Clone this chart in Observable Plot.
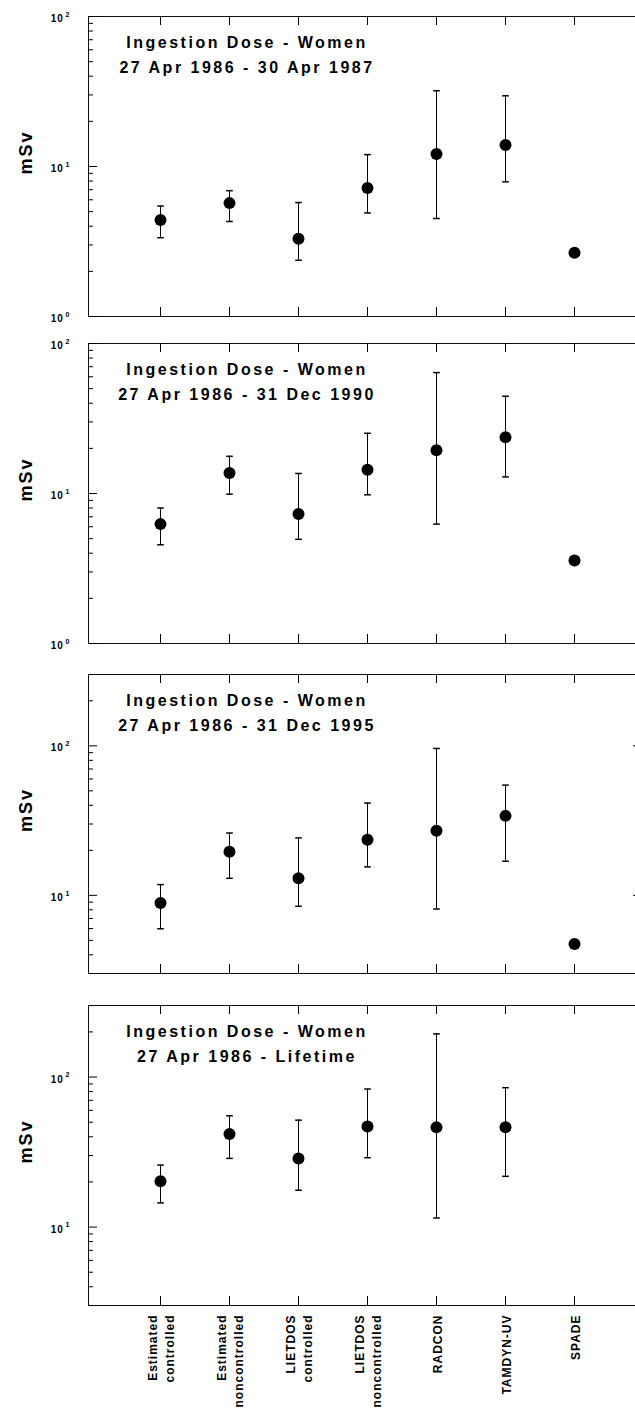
<!DOCTYPE html>
<html><head><meta charset="utf-8">
<script src="https://cdn.jsdelivr.net/npm/d3@7"></script>
<script src="https://cdn.jsdelivr.net/npm/@observablehq/plot@0.6"></script>
<style>
html,body{margin:0;padding:0;background:#fff;overflow:hidden}
#chart{position:relative;width:635px;height:1408px;overflow:hidden}
#chart svg{position:absolute;left:0;max-width:none;}
</style></head><body><div id="chart"></div>
<script>
const categories = ["Estimated\ncontrolled","Estimated\nnoncontrolled","LIETDOS\ncontrolled","LIETDOS\nnoncontrolled","RADCON","TAMDYN-UV","SPADE"];
const titleLine = "Ingestion Dose - Women";
const periods = ["27 Apr 1986 - 30 Apr 1987","27 Apr 1986 - 31 Dec 1990","27 Apr 1986 - 31 Dec 1995","27 Apr 1986 - Lifetime"];
const yLabel = "mSv";
const yDomains = [[1,100],[1,100],[3,300],[3,300]];

const dose1987 = [4.4, 5.7, 3.3, 7.2, 12.1, 13.9, 2.66];
const low1987  = [3.35, 4.3, 2.37, 4.9, 4.5, 7.9, null];
const high1987 = [5.45, 6.9, 5.75, 12.0, 32, 29.6, null];

const dose1990 = [6.25, 13.7, 7.3, 14.4, 19.4, 23.7, 3.57];
const low1990  = [4.55, 9.9, 4.95, 9.8, 6.25, 12.9, null];
const high1990 = [8.0, 17.7, 13.6, 25.2, 64, 44.5, null];

const dose1995 = [8.9, 19.6, 13.0, 23.5, 27.0, 34.0, 4.73];
const low1995  = [5.98, 13.0, 8.45, 15.5, 8.1, 16.9, null];
const high1995 = [11.8, 26.1, 24.2, 41.4, 96, 54.6, null];

const doseLife = [20.2, 41.8, 28.6, 46.8, 46.2, 46.3, null];
const lowLife  = [14.5, 28.7, 17.6, 29.0, 11.5, 21.8, null];
const highLife = [25.9, 55.2, 51.6, 83.2, 194, 84.9, null];

const doses = [dose1987, dose1990, dose1995, doseLife];
const lows = [low1987, low1990, low1995, lowLife];
const highs = [high1987, high1990, high1995, highLife];

const layout = [
  {top: 16, h: 300, mb: 10, showX: false, rightTicks: false},
  {top: 343, h: 300, mb: 10, showX: false, rightTicks: false},
  {top: 674, h: 299, mb: 10, showX: false, rightTicks: true},
  {top: 1005, h: 300, mb: 103, showX: true, rightTicks: false}
];

// the plotting frame runs past the 635px page edge (its right side is cropped, as in the reference)
const W = 646, ML = 88, MT = 10;
const FW = W - ML;
const capSymbol = {draw(ctx) { ctx.moveTo(-3.3, 0); ctx.lineTo(3.3, 0); }};
const font = "'Liberation Sans', Arial, Helvetica, sans-serif";
const container = document.getElementById("chart");

layout.forEach((L, i) => {
  const [lo, hi] = yDomains[i];
  const rows = categories.map((c, j) => ({c, v: doses[i][j], lo: lows[i][j], hi: highs[i][j]}));
  const pts = rows.filter(d => d.v != null);
  const bars = rows.filter(d => d.lo != null);
  const major = [], minor = [];
  for (let e = -1; e <= 3; e++) for (let m = 1; m < 10; m++) {
    const v = m * Math.pow(10, e);
    if (v < lo * 0.999 || v > hi * 1.001) continue;
    (m === 1 ? major : minor).push(v);
  }
  const marks = [
    Plot.frame({stroke: "#111"}),
    Plot.ruleY(major, {y: d => d, insetRight: FW - 9}),
    Plot.ruleY(minor, {y: d => d, insetRight: FW - 5}),
    Plot.ruleX(categories, {x: d => d, insetBottom: L.h - 9}),
    Plot.ruleX(categories, {x: d => d, insetTop: L.h - 9}),
    Plot.ruleX(bars, {x: "c", y1: "lo", y2: "hi", stroke: "black"}),
    Plot.dot(bars, {x: "c", y: "hi", symbol: capSymbol, r: 3, stroke: "black", fill: "none"}),
    Plot.dot(bars, {x: "c", y: "lo", symbol: capSymbol, r: 3, stroke: "black", fill: "none"}),
    Plot.dot(pts, {x: "c", y: "v", r: 6, fill: "black", stroke: "none"}),
    Plot.text([titleLine + "\n" + periods[i]], {frameAnchor: "top-left", dx: 158.5, dy: 14, textAnchor: "middle", lineAnchor: "top", lineHeight: 25/16, fontSize: 16, fontWeight: "bold"}),
    Plot.text([yLabel], {frameAnchor: "left", dx: -62, dy: -14, rotate: -90, textAnchor: "middle", fontSize: 18, fontWeight: "bold"}),
    Plot.text(major, {y: d => d, frameAnchor: "left", text: () => "10", textAnchor: "end", dx: -25, dy: 2.4, fontSize: 10, fontWeight: "bold"}),
    Plot.text(major, {y: d => d, frameAnchor: "left", text: d => String(Math.round(Math.log10(d))), textAnchor: "start", dx: -23, dy: -2, fontSize: 7, fontWeight: "bold"})
  ];
  if (L.rightTicks) marks.push(Plot.ruleY(major, {y: d => d, insetLeft: FW - 13}));
  if (L.showX) marks.push(Plot.text(categories, {x: d => d, frameAnchor: "bottom", dy: 9, rotate: -90, textAnchor: "end", lineAnchor: "middle", lineHeight: 1.42, fontSize: 12, fontWeight: "bold"}));
  const svg = Plot.plot({
    width: W,
    height: MT + L.h + L.mb,
    marginLeft: ML, marginRight: 0, marginTop: MT, marginBottom: L.mb,
    style: {fontFamily: font, background: "white", color: "black"},
    x: {type: "point", domain: categories, range: [88.5, 645], padding: 1, axis: null},
    y: {type: "log", domain: [lo, hi], axis: null},
    marks
  });
  svg.style.top = (L.top - MT) + "px";
  const sel = d3.select(svg).selectAll("text");
  sel.filter(function() { return this.textContent.startsWith(titleLine); }).style("letter-spacing", "2.5px");
  sel.filter(function() { return this.textContent === yLabel; }).style("letter-spacing", "2px");
  sel.filter(function() { return this.textContent === "10"; }).style("letter-spacing", "0.8px");
  sel.filter(function() { return categories.map(c => c.replace("\n", "")).includes(this.textContent); }).style("letter-spacing", "1px");
  container.append(svg);
});
</script></body></html>
